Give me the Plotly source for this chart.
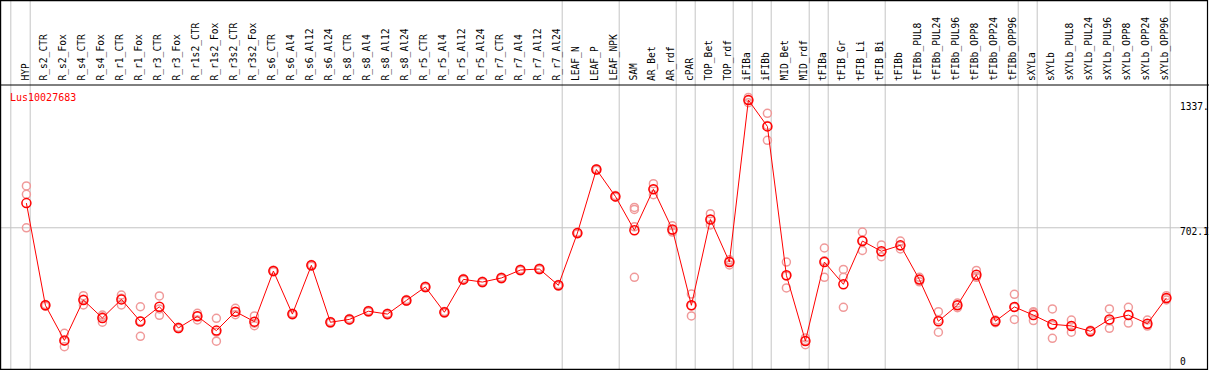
import plotly.graph_objects as go

gene = "Lus10027683"

categories = ["HYP", "R_s2_CTR", "R_s2_Fox", "R_s4_CTR", "R_s4_Fox", "R_r1_CTR", "R_r1_Fox",
              "R_r3_CTR", "R_r3_Fox", "R_r1s2_CTR", "R_r1s2_Fox", "R_r3s2_CTR", "R_r3s2_Fox",
              "R_s6_CTR", "R_s6_Al4", "R_s6_Al12", "R_s6_Al24", "R_s8_CTR", "R_s8_Al4",
              "R_s8_Al12", "R_s8_Al24", "R_r5_CTR", "R_r5_Al4", "R_r5_Al12", "R_r5_Al24",
              "R_r7_CTR", "R_r7_Al4", "R_r7_Al12", "R_r7_Al24", "LEAF_N", "LEAF_P", "LEAF_NPK",
              "SAM", "AR_Bet", "AR_rdf", "cPAR", "TOP_Bet", "TOP_rdf", "iFIBa", "iFIBb",
              "MID_Bet", "MID_rdf", "tFIBa", "tFIB_Gr", "tFIB_Li", "tFIB_Bi", "tFIBb",
              "tFIBb_PUL8", "tFIBb_PUL24", "tFIBb_PUL96", "tFIBb_OPP8", "tFIBb_OPP24",
              "tFIBb_OPP96", "sXYLa", "sXYLb", "sXYLb_PUL8", "sXYLb_PUL24", "sXYLb_PUL96",
              "sXYLb_OPP8", "sXYLb_OPP24", "sXYLb_OPP96"]

group_sizes = [1, 28, 3, 3, 1, 2, 1, 1, 2, 1, 3, 7, 1, 7]

means = [823, 322, 150, 348, 260, 351, 243, 315, 211, 268, 198, 291, 242,
         490, 279, 518, 239, 253, 293, 279, 346, 412, 288, 449, 436, 456, 495, 500, 420,
         676, 988, 856, 690, 891, 694, 322, 743, 534, 1328, 1199, 469, 147, 534, 425,
         637, 587, 616, 448, 244, 322, 472, 244, 314, 274, 229, 221, 195, 253, 274, 232, 358]

replicates = [
    [907, 866, 702], [326, 318, 322], [185, 146, 119], [369, 352, 324], [274, 266, 239],
    [372, 357, 324], [315, 245, 170], [368, 304, 273], [214, 211, 208], [283, 270, 250],
    [258, 190, 146], [307, 291, 276], [270, 234, 222],
    [494, 490, 486], [283, 279, 275], [522, 518, 514], [243, 239, 235], [257, 253, 249],
    [297, 293, 289], [283, 279, 275], [350, 346, 342], [416, 412, 408], [292, 288, 284],
    [453, 449, 445], [440, 436, 432], [460, 456, 452], [499, 495, 491], [504, 500, 496],
    [424, 420, 416], [680, 676, 672], [992, 988, 984], [860, 856, 852],
    [802, 792, 707, 459], [918, 891, 864], [712, 690, 681], [377, 320, 270],
    [771, 743, 716], [545, 537, 520], [1341, 1328, 1315], [1263, 1204, 1131],
    [534, 466, 407], [162, 150, 129], [603, 540, 459], [498, 459, 312], [681, 639, 591],
    [618, 583, 560], [637, 613, 598], [459, 448, 437], [291, 250, 190], [333, 322, 310],
    [493, 464, 459], [250, 244, 237], [376, 313, 253], [291, 285, 247], [304, 223, 160],
    [250, 222, 190], [200, 194, 190], [304, 246, 209], [312, 276, 235], [250, 226, 220],
    [369, 357, 348]]

ytick_values = [0, 702.1, 1337]
ytick_labels = ["0", "702.1", "1337."]

W, H = 1209, 370
x0_px, step_px = 26.4, 19.0
y0_px, yscale = 371.0, 0.204

fig = go.Figure()

rx, ry = [], []
for i, reps in enumerate(replicates):
    for v in reps:
        rx.append(i)
        ry.append(v)

fig.add_trace(go.Scatter(x=rx, y=ry, mode="markers",
                         marker=dict(symbol="circle-open", size=8, color="#f09a9a",
                                     line=dict(width=1.5, color="#f09a9a")),
                         hoverinfo="skip", showlegend=False))
fig.add_trace(go.Scatter(x=list(range(len(categories))), y=means, mode="lines+markers",
                         line=dict(color="#ff0000", width=1),
                         marker=dict(symbol="circle-open", size=9, color="#ff0000",
                                     line=dict(width=1.5, color="#ff0000")),
                         text=categories, showlegend=False))

shapes = []
bounds = [-1]
c = -1
for g in group_sizes:
    c += g
    bounds.append(c)
for b in bounds:
    xb = b + 0.2 if b >= 0 else b + 0.18
    shapes.append(dict(type="line", xref="x", yref="paper", x0=xb, x1=xb, y0=0, y1=1,
                       line=dict(color="#c4c4c4", width=1), layer="below"))
shapes.append(dict(type="line", xref="paper", yref="y", x0=0, x1=1, y0=ytick_values[1],
                   y1=ytick_values[1], line=dict(color="#c4c4c4", width=1), layer="below"))
hy = (H - 85) / H
shapes.append(dict(type="line", xref="paper", yref="paper", x0=0, x1=1, y0=hy, y1=hy,
                   line=dict(color="#000000", width=1)))
shapes.append(dict(type="rect", xref="paper", yref="paper", x0=0.6 / W, x1=1207.5 / W,
                   y0=0.6 / H, y1=(H - 0.6) / H, line=dict(color="#000000", width=1.2)))

annotations = []
for i, name in enumerate(categories):
    annotations.append(dict(x=i - 0.1, xref="x", y=(H - 83) / H, yref="paper",
                            text=name, textangle=-90, showarrow=False,
                            xanchor="center", yanchor="bottom",
                            font=dict(family="DejaVu Sans Mono", size=9.6, color="#000000")))
label_px = [361.7, 231.5, 106.7]
for v, lab, ypx in zip(ytick_values, ytick_labels, label_px):
    annotations.append(dict(x=1178 / W, xref="paper", y=(H - ypx) / H, yref="paper", text=lab,
                            showarrow=False, xanchor="left", yanchor="middle",
                            font=dict(family="DejaVu Sans Mono", size=9.6, color="#000000")))
annotations.append(dict(x=8 / W, xref="paper", y=(H - 97) / H, yref="paper", text=gene,
                        showarrow=False, xanchor="left", yanchor="middle",
                        font=dict(family="DejaVu Sans Mono", size=10, color="#ff0000")))

xr = [(0 - x0_px) / step_px, (W - x0_px) / step_px]
yr = [(y0_px - H) / yscale, y0_px / yscale]

fig.update_layout(width=W, height=H, margin=dict(l=0, r=0, t=0, b=0),
                  paper_bgcolor="white", plot_bgcolor="white",
                  xaxis=dict(range=xr, showgrid=False, zeroline=False, showticklabels=False,
                             ticks="", fixedrange=True),
                  yaxis=dict(range=yr, showgrid=False, zeroline=False, showticklabels=False,
                             ticks="", fixedrange=True),
                  shapes=shapes, annotations=annotations, showlegend=False)

fig.write_html("out.html", config={"displayModeBar": False},
               post_script="document.body.style.margin='0';document.body.style.overflow='hidden';")
